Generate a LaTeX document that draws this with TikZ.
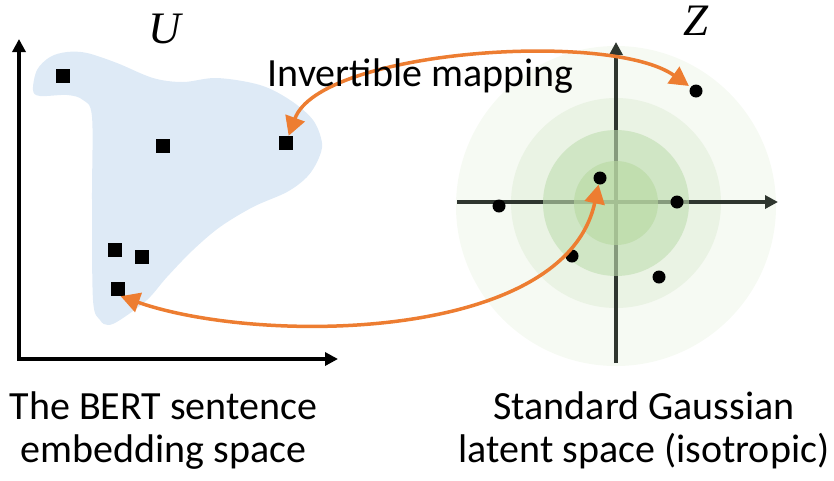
\documentclass[tikz,border=0pt]{standalone}
\usepackage{fontspec}
\setmainfont{Carlito}
\newfontfamily\symfont{Liberation Serif}
\usetikzlibrary{arrows.meta}
\definecolor{blobblue}{HTML}{DEEAF6}
\definecolor{orng}{HTML}{ED7D31}
\definecolor{gA}{HTML}{F6FAF3}
\definecolor{gB}{HTML}{EAF3E4}
\definecolor{gC}{RGB}{192,222,177}
\definecolor{gD}{RGB}{184,217,161}
\definecolor{axgray}{HTML}{2F362F}
\begin{document}
\begin{tikzpicture}[x=1pt,y=-1pt,
  sq/.style={fill=black,rectangle,minimum size=14pt,inner sep=0pt},
  dot/.style={fill=black,circle,minimum size=13pt,inner sep=0pt},
  leftaxis/.style={line width=3.5pt,black,{Triangle[length=13pt,width=13pt]}-{Triangle[length=13pt,width=13pt]}},
  rightaxis/.style={line width=3.5pt,axgray,-{Triangle[length=13pt,width=13pt]}},
  maparrow/.style={orng,line width=3.5pt,{Triangle[length=19pt,width=20pt]}-{Triangle[length=19pt,width=20pt]}},
  caption/.style={anchor=base,inner sep=0pt,font=\fontsize{40}{43}\selectfont},
  maptext/.style={anchor=base,inner sep=0pt,font=\fontsize{40}{44}\selectfont},
  spacelabel/.style={anchor=base,inner sep=0pt,font=\symfont\itshape\fontsize{45}{45}\selectfont}]
\useasboundingbox (0,0) rectangle (834,480);
% blob
\fill[blobblue] plot[smooth cycle,tension=0.55] coordinates {
 (33,90) (37,70) (50,57) (67,52) (87,53) (117,63) (153,78) (183,82) (217,78)
 (260,85) (290,100) (313,120) (322,143) (318,160) (307,177) (287,192) (253,207)
 (220,227) (193,250) (167,277) (147,300) (120,320) (108,325) (100,320) (93,300)
 (92,200) (92,117) (83,100) (67,95) (40,96)};
% left axes
\coordinate (ly) at (19,39);
\coordinate (lo) at (19,359);
\coordinate (lx) at (338,359);
\draw[leftaxis] (ly) -- (lo) -- (lx);
% squares
\node[sq] (s1) at (63,76) {};
\node[sq] (s2) at (163,146) {};
\node[sq] (s3) at (286,143) {};
\node[sq] (s4) at (115,250) {};
\node[sq] (s5) at (142,257) {};
\node[sq] (s6) at (118,289) {};
% gaussian
\fill[gA] (616,206) circle (160pt);
\fill[gB] (616,203) circle (105pt);
\coordinate (rl) at (457,202);
\coordinate (rr) at (778,202);
\coordinate (rb) at (616,363);
\coordinate (rt) at (616,42);
\draw[rightaxis] (rl) -- (rr);
\draw[rightaxis] (rb) -- (rt);
\fill[gC,opacity=0.6] (616,203) circle (73pt);
\fill[gD,opacity=0.6] (616,203) circle (42pt);
% dots
\node[dot] (d1) at (696,91) {};
\node[dot] (d2) at (600,178) {};
\node[dot] (d3) at (499,206) {};
\node[dot] (d4) at (677,202) {};
\node[dot] (d5) at (572,256) {};
\node[dot] (d6) at (659,277) {};
% mappings
\draw[maparrow,shorten >=2pt] (s3) .. controls (320,50) and (610,30) .. (d1);
\draw[maparrow] (s6.-70) .. controls (260,345) and (565,342) .. (d2);
% labels
\node[spacelabel] (U) at (165,43) {U};
\node[spacelabel] (Z) at (696,35) {Z};
\node[maptext] (map) at (420.5,86) {Invertible mapping};
\node[caption] (c1a) at (163.5,419) {The BERT sentence};
\node[caption] (c1b) at (163.5,462) {embedding space};
\node[caption] (c2a) at (644,419) {Standard Gaussian};
\node[caption] (c2b) at (644,462) {latent space (isotropic)};
\end{tikzpicture}
\end{document}
